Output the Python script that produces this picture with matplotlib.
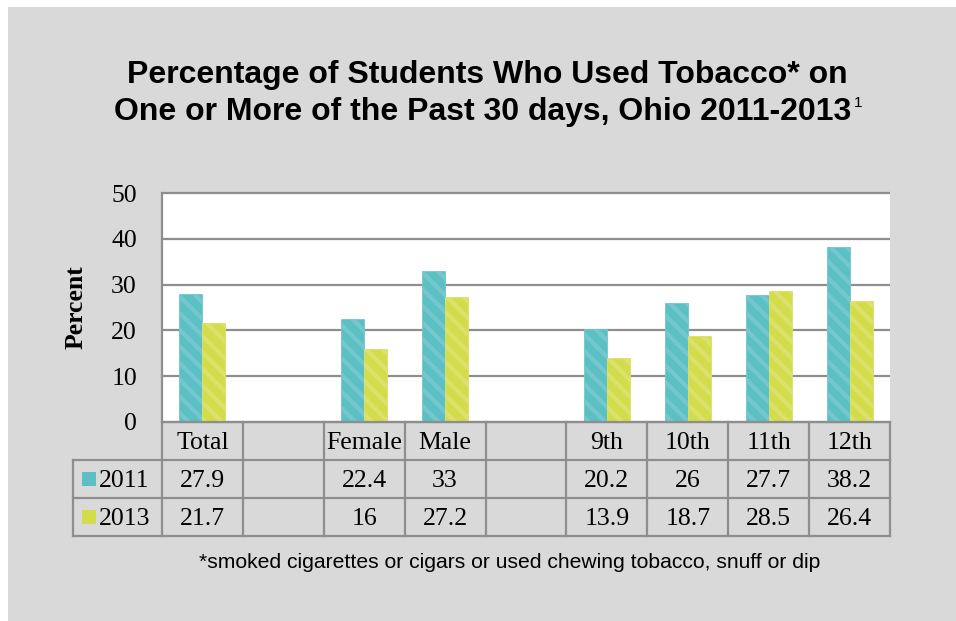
import numpy as np
import matplotlib
matplotlib.use('Agg')
import matplotlib.pyplot as plt
from matplotlib.transforms import blended_transform_factory
from matplotlib.patches import Rectangle
from matplotlib.lines import Line2D

categories = ['Total', '', 'Female', 'Male', '', '9th', '10th', '11th', '12th']
series_names = ['2011', '2013']
values_2011 = [27.9, None, 22.4, 33, None, 20.2, 26, 27.7, 38.2]
values_2013 = [21.7, None, 16, 27.2, None, 13.9, 18.7, 28.5, 26.4]
yticks = [0, 10, 20, 30, 40, 50]
title_line1 = 'Percentage of Students Who Used Tobacco* on'
title_line2 = 'One or More of the Past 30 days, Ohio 2011-2013'
title_sup = '1'
ylabel = 'Percent'
footnote = '*smoked cigarettes or cigars or used chewing tobacco, snuff or dip'

colors = ['#5bbfc4', '#d3dc4a']
stripe = ['#72c8cc', '#dbe16b']
grid_c = '#8e8e8e'
serif = ['Liberation Serif', 'DejaVu Serif']
sans = ['Liberation Sans', 'DejaVu Sans']
fs_serif = 18.5

plt.rcParams['hatch.linewidth'] = 3.2

W, H = 956, 621
fig = plt.figure(figsize=(W / 100, H / 100), dpi=100)
fig.patch.set_facecolor('white')
fig.add_artist(Rectangle((8 / W, 0), 1 - 8 / W, 1 - 7 / H, transform=fig.transFigure,
                         facecolor='#d9d9d9', edgecolor='none', zorder=-10))

ax = fig.add_axes([162 / W, 1 - 422 / H, (890 - 162) / W, (422 - 193) / H])
ax.set_facecolor('white')
n = len(categories)
x = np.arange(n)
ax.set_xlim(-0.5, n - 0.5)
ax.set_ylim(0, 50)

ax.hlines(yticks, -0.5, n - 0.5, colors=grid_c, linewidth=1.6, zorder=1, clip_on=False)

bw = 0.285
for i, vals in enumerate([values_2011, values_2013]):
    xs = [xi + (i - 0.5) * bw for xi, v in zip(x, vals) if v is not None]
    hs = [v for v in vals if v is not None]
    ax.bar(xs, hs, width=bw, color=colors[i], edgecolor=stripe[i], linewidth=0.6,
           hatch='\\\\', zorder=2)

for s in ['top', 'right', 'bottom']:
    ax.spines[s].set_visible(False)
ax.spines['left'].set_color(grid_c)
ax.spines['left'].set_linewidth(1.6)
ax.set_xticks([])
ax.set_yticks(yticks)
ax.tick_params(axis='y', length=0, pad=18, labelsize=fs_serif)
for lab in ax.get_yticklabels():
    lab.set_fontfamily(serif)

# data table
ah = 422 - 193
aw = 890 - 162
r = [0, -38 / ah, -76 / ah, -114 / ah]
dy = -2 / ah
leg_left = (73 - 162) / aw
tx = blended_transform_factory(ax.transData, ax.transAxes)
ta = ax.transAxes
lk = dict(color=grid_c, linewidth=1.6, clip_on=False, zorder=3)
ax.add_line(Line2D([0, 1], [r[0], r[0]], transform=ta, **lk))
for yy in r[1:]:
    ax.add_line(Line2D([leg_left, 1], [yy, yy], transform=ta, **lk))
ax.add_line(Line2D([leg_left, leg_left], [r[1], r[3]], transform=ta, **lk))
for e in np.arange(n + 1) - 0.5:
    ax.add_line(Line2D([e, e], [r[0], r[3]], transform=tx, **lk))

for xi, c in zip(x, categories):
    ax.text(xi, (r[0] + r[1]) / 2 + dy, c, transform=tx, ha='center', va='center',
            fontsize=fs_serif, family=serif, clip_on=False)
for ri, vals in enumerate([values_2011, values_2013]):
    yc = (r[ri + 1] + r[ri + 2]) / 2
    for xi, v in zip(x, vals):
        if v is None:
            continue
        ax.text(xi, yc + dy, f'{v:g}', transform=tx, ha='center', va='center',
                fontsize=fs_serif, family=serif, clip_on=False)
    sq = 14
    ax.add_patch(Rectangle(((82 - 162) / aw, yc - sq / 2 / ah), sq / aw, sq / ah,
                           transform=ta, facecolor=colors[ri], edgecolor='none', clip_on=False))
    ax.text((99 - 162) / aw, yc + dy, series_names[ri], transform=ta, ha='left', va='center',
            fontsize=fs_serif, family=serif, clip_on=False)

fig.text(76 / W, 1 - 307 / H, ylabel, rotation=90, ha='center', va='center',
         fontsize=fs_serif, fontweight='bold', family=serif)

fig.text(487 / W, 1 - 83 / H, title_line1, ha='center', va='baseline',
         fontsize=23, fontweight='bold', family=sans)
t2 = fig.text(482.5 / W, 1 - 120 / H, title_line2, ha='center', va='baseline',
              fontsize=23, fontweight='bold', family=sans)
fig.canvas.draw()
bb = t2.get_window_extent(fig.canvas.get_renderer())
fig.text(bb.x1 / W + 3 / W, 1 - 107 / H, title_sup, ha='left', va='baseline',
         fontsize=11, family=sans)

fig.text(510 / W, 1 - 568 / H, footnote, ha='center', va='baseline',
         fontsize=15.2, family=sans)

fig.savefig('out.png', dpi=100, facecolor=fig.get_facecolor())
